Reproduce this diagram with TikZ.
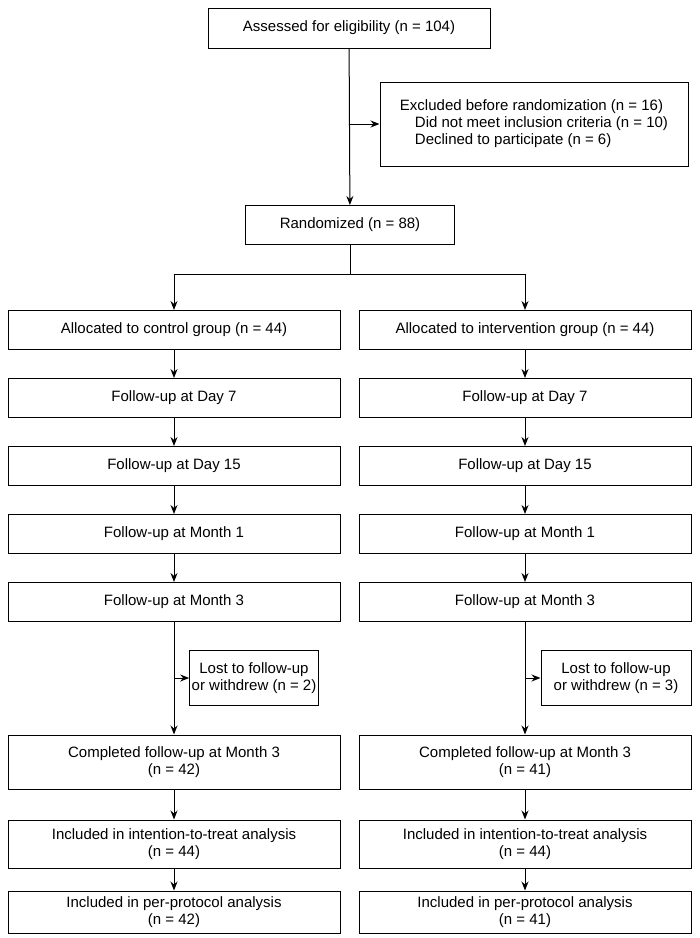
\documentclass[tikz,border=0pt]{standalone}
\usepackage{fontspec}
\setmainfont{Liberation Sans}
\usetikzlibrary{arrows.meta,positioning}

\tikzset{
  box/.style={draw,line width=1pt,inner sep=2pt,align=center,font=\fontsize{15}{17}\selectfont},
  colbox/.style={box,minimum width=332pt,minimum height=39pt},
  tallbox/.style={colbox,minimum height=54pt},
  arr/.style={line width=1pt,-{Stealth[length=9pt,width=7pt]}}
}

\begin{document}
\begin{tikzpicture}[x=1pt,y=-1pt]
	\useasboundingbox (0,0) rectangle (700,938);
	% top part
	\node[box,minimum width=282pt,minimum height=40pt] (assess) at (349,28) {Assessed for eligibility (n = 104)};
	\node[box,minimum width=308pt,minimum height=84pt,align=left] (excl) at (534,124)
	  {Excluded before randomization (n = 16)\\\hspace{1em}Did not meet inclusion criteria (n = 10)\\\hspace{1em}Declined to participate (n = 6)};
	\node[box,minimum width=209pt,minimum height=39pt] (rand) at (350,225) {Randomized (n = 88)};
	\coordinate (bx) at (349,124);
	\draw[arr] (assess) -- (rand);
	\draw[arr] (bx) -- (excl.west);
	% left column
	\node[colbox] (allocC) at (174,330) {Allocated to control group (n = 44)};
	\node[colbox] (d7C) at (174,398) {Follow-up at Day 7};
	\node[colbox] (d15C) at (174,466) {Follow-up at Day 15};
	\node[colbox] (m1C) at (174,534) {Follow-up at Month 1};
	\node[colbox] (m3C) at (174,602) {Follow-up at Month 3};
	\node[box,minimum width=124pt,minimum height=55pt] (lostC) at (254,678) {Lost to follow-up\\or withdrew (n = 2)};
	\node[tallbox] (compC) at (174,762) {Completed follow-up at Month 3\\(n = 42)};
	\node[colbox,minimum height=48pt] (ittC) at (174,844) {Included in intention-to-treat analysis\\(n = 44)};
	\node[colbox,minimum height=42pt] (ppC) at (174,912) {Included in per-protocol analysis\\(n = 42)};
	\coordinate (brC) at (174,678);
	% right column
	\node[colbox] (allocI) at (525,330) {Allocated to intervention group (n = 44)};
	\node[colbox] (d7I) at (525,398) {Follow-up at Day 7};
	\node[colbox] (d15I) at (525,466) {Follow-up at Day 15};
	\node[colbox] (m1I) at (525,534) {Follow-up at Month 1};
	\node[colbox] (m3I) at (525,602) {Follow-up at Month 3};
	\node[box,minimum width=150pt,minimum height=55pt] (lostI) at (616,678) {Lost to follow-up\\or withdrew (n = 3)};
	\node[tallbox] (compI) at (525,762) {Completed follow-up at Month 3\\(n = 41)};
	\node[colbox,minimum height=48pt] (ittI) at (525,844) {Included in intention-to-treat analysis\\(n = 44)};
	\node[colbox,minimum height=42pt] (ppI) at (525,912) {Included in per-protocol analysis\\(n = 41)};
	\coordinate (brI) at (525,678);
	% split
	\coordinate (split) at (350,274);
	\draw[line width=1pt] (rand) -- (split);
	\draw[arr] (split) -| (allocC);
	\draw[arr] (split) -| (allocI);
	% column arrows
	\foreach \c in {C,I} {
		\draw[arr] (alloc\c) -- (d7\c);
		\draw[arr] (d7\c) -- (d15\c);
		\draw[arr] (d15\c) -- (m1\c);
		\draw[arr] (m1\c) -- (m3\c);
		\draw[arr] (m3\c) -- (comp\c);
		\draw[arr] (br\c) -- (lost\c.west);
		\draw[arr] (comp\c) -- (itt\c);
		\draw[arr] (itt\c) -- (pp\c);
	}
\end{tikzpicture}
\end{document}
